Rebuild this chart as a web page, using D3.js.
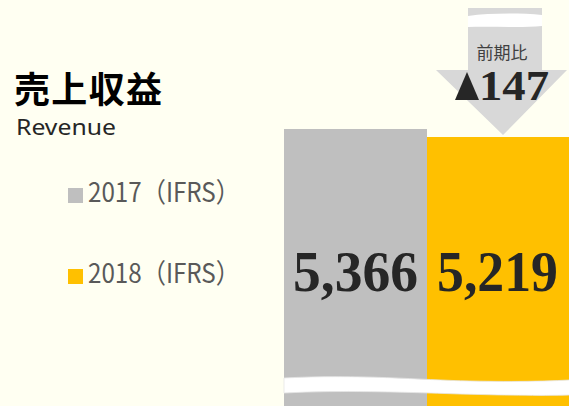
<!DOCTYPE html>
<html>
<head>
<meta charset="utf-8">
<script src="https://cdn.jsdelivr.net/npm/d3@7"></script>
<style>
  body { margin: 0; background: #FFFFF2; }
  svg { display: block; }
</style>
</head>
<body>
<div id="chart"></div>
<script>
var years = ["2017（IFRS）", "2018（IFRS）"];
var revenue = [5366, 5219];
var colors = ["#BFBFBF", "#FFC000"];

var width = 569, height = 406;

var svg = d3.select("#chart").append("svg")
    .attr("width", width)
    .attr("height", height);

svg.append("rect")
    .attr("width", width)
    .attr("height", height)
    .attr("fill", "#FFFFF2");

var x = d3.scaleBand()
    .domain(years)
    .range([284, 570])
    .padding(0);

// zero sits below the picture, the axis is broken
var y = d3.scaleLinear()
    .domain([0, d3.max(revenue)])
    .range([421, 129]);

svg.selectAll(".bar")
    .data(revenue)
    .enter().append("rect")
    .attr("class", "bar")
    .attr("x", (d, i) => x(years[i]))
    .attr("y", d => y(d))
    .attr("width", x.bandwidth())
    .attr("height", d => y(0) - y(d))
    .attr("fill", (d, i) => colors[i]);

svg.selectAll(".val")
    .data(revenue)
    .enter().append("text")
    .attr("class", "val")
    .attr("x", (d, i) => x(years[i]) + x.bandwidth() / 2 - i)
    .attr("y", 291)
    .attr("text-anchor", "middle")
    .attr("font-family", "Liberation Serif")
    .attr("font-weight", "bold")
    .attr("font-size", 58)
    .attr("textLength", (d, i) => i == 0 ? 125 : 121)
    .attr("lengthAdjust", "spacingAndGlyphs")
    .attr("fill", "#262626")
    .text(d => d3.format(",")(d));

// break mark
svg.append("path")
    .attr("d", "M284,378 C360,374 420,380 470,381 C520,382 550,381 570,380 L570,395 C540,396 500,395 460,394 C400,392 340,390 284,393 Z")
    .attr("fill", "#FFFFFF")
    .attr("stroke", "#E6E6E6")
    .attr("stroke-width", 0.8);

// difference arrow
var ax = 503;
svg.append("path")
    .attr("d", "M468,8 L542,8 L542,70 L567,70 L" + ax + ",135 L436,70 L468,70 Z")
    .attr("fill", "#D8D8D8");

svg.append("path")
    .attr("d", "M468,16 C490,13 520,13 542,15 L542,26 C520,28 490,26 468,27 Z")
    .attr("fill", "#FFFFFF");

svg.append("text")
    .attr("x", 502)
    .attr("y", 59)
    .attr("text-anchor", "middle")
    .attr("font-family", "Noto Sans CJK JP")
    .attr("font-size", 17)
    .attr("fill", "#404040")
    .text("前期比");

svg.append("path")
    .attr("d", "M455,100 L467,72 L479,100 Z")
    .attr("fill", "#262626");

svg.append("text")
    .attr("x", 479)
    .attr("y", 100)
    .attr("font-family", "Liberation Serif")
    .attr("font-weight", "bold")
    .attr("font-size", 42)
    .attr("textLength", 70)
    .attr("lengthAdjust", "spacingAndGlyphs")
    .attr("fill", "#262626")
    .text(revenue[0] - revenue[1]);

// title
svg.append("text")
    .attr("x", 14)
    .attr("y", 103)
    .attr("font-family", "Noto Sans CJK JP")
    .attr("font-weight", "bold")
    .attr("font-size", 36)
    .attr("textLength", 148)
    .attr("fill", "#000")
    .text("売上収益");

svg.append("text")
    .attr("x", 16)
    .attr("y", 135)
    .attr("font-family", "Noto Sans")
    .attr("font-size", 21)
    .attr("textLength", 100)
    .attr("lengthAdjust", "spacingAndGlyphs")
    .attr("fill", "#262626")
    .text("Revenue");

// legend
var legend = svg.selectAll(".legend")
    .data(years)
    .enter().append("g")
    .attr("class", "legend")
    .attr("transform", (d, i) => "translate(68," + (188 + i * 81) + ")");

legend.append("rect")
    .attr("width", 15)
    .attr("height", 15)
    .attr("fill", (d, i) => colors[i]);

legend.append("text")
    .attr("x", 20)
    .attr("y", 14)
    .attr("font-family", "Noto Sans CJK JP")
    .attr("font-size", 27)
    .attr("textLength", 152)
    .attr("lengthAdjust", "spacingAndGlyphs")
    .attr("fill", "#595959")
    .text(d => d);
</script>
</body>
</html>
